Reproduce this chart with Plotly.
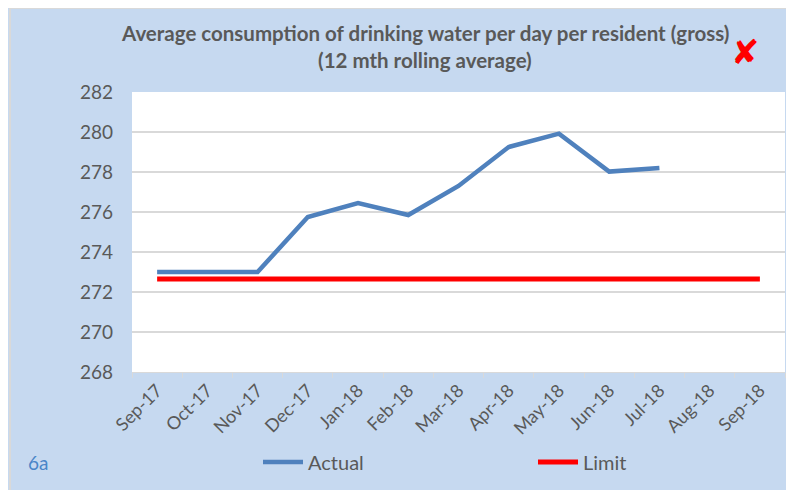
import plotly.graph_objects as go

months = ["Sep-17", "Oct-17", "Nov-17", "Dec-17", "Jan-18", "Feb-18", "Mar-18",
          "Apr-18", "May-18", "Jun-18", "Jul-18", "Aug-18", "Sep-18"]
actual = [273.0, 273.0, 273.0, 275.75, 276.45, 275.85, 277.3,
          279.25, 279.92, 278.02, 278.2, None, None]
limit = [272.65] * 13
y_ticks = [268, 270, 272, 274, 276, 278, 280, 282]

BG = "#C6D9F0"
TXT = "#595959"
FONT = "Lato"

# the page places the figure 8px from the top-left corner
OFF = 8
W, H = 794 - OFF, 490 - OFF
L, R, T, B = 132 - OFF, 9, 92 - OFF, 118
pw, ph = W - L - R, H - T - B

def px_x(x):  # page pixel -> paper fraction
    return (x - OFF - L) / pw

def px_y(y):
    return (H - B - (y - OFF)) / ph

fig = go.Figure()
fig.add_trace(go.Scatter(x=months, y=actual, name="Actual", mode="lines",
                         line=dict(color="#4F81BD", width=4.5), connectgaps=False))
fig.add_trace(go.Scatter(x=months, y=limit, name="Limit", mode="lines",
                         line=dict(color="#FF0000", width=5)))

shapes = [
    dict(type="rect", xref="paper", yref="paper", x0=px_x(9), x1=px_x(794), y0=px_y(8), y1=px_y(9),
         fillcolor="#D9D9D9", line_width=0, layer="below"),
    dict(type="rect", xref="paper", yref="paper", x0=px_x(9), x1=px_x(11), y0=px_y(8), y1=px_y(490),
         fillcolor="#D9D9D9", line_width=0, layer="below"),
]

annotations = [
    dict(text="<b>Average consumption of drinking water per day per resident (gross)</b>",
         xref="paper", yref="paper", x=px_x(425), y=px_y(33), xanchor="center", yanchor="middle",
         showarrow=False, font=dict(family=FONT, size=20.5, color=TXT)),
    dict(text="<b>(12 mth rolling average)</b>",
         xref="paper", yref="paper", x=px_x(425), y=px_y(60), xanchor="center", yanchor="middle",
         showarrow=False, font=dict(family=FONT, size=20.5, color=TXT)),
    dict(text="✘", xref="paper", yref="paper", x=px_x(745), y=px_y(52), xanchor="center",
         yanchor="middle", showarrow=False, font=dict(family="DejaVu Sans", size=34, color="#FF0000")),
    dict(text="6a", xref="paper", yref="paper", x=px_x(26), y=px_y(462), xanchor="left",
         yanchor="middle", showarrow=False, font=dict(family=FONT, size=19, color="#4A86C8")),
]

fig.update_layout(
    width=W, height=H,
    margin=dict(l=L, r=R, t=T, b=B, pad=0, autoexpand=False),
    paper_bgcolor=BG, plot_bgcolor="white",
    font=dict(family=FONT, color=TXT),
    shapes=shapes, annotations=annotations,
    showlegend=True,
    legend=dict(orientation="h", x=px_x(258), xanchor="left", y=px_y(462), yanchor="middle",
                font=dict(family=FONT, size=20, color=TXT), bgcolor="rgba(0,0,0,0)",
                entrywidth=220, itemwidth=40, traceorder="normal"),
)
fig.update_xaxes(type="category", categoryorder="array", categoryarray=months,
                 range=[-0.5, 12.5], showgrid=False, showline=True, linecolor="#D9D9D9",
                 linewidth=1, ticks="outside", tickson="boundaries", tickcolor="#D9D9D9",
                 ticklen=5, tickangle=-45, tickfont=dict(family=FONT, size=18, color=TXT),
                 zeroline=False, fixedrange=True)
fig.update_yaxes(range=[268, 282], tickvals=y_ticks, showgrid=True, gridcolor="#D9D9D9",
                 gridwidth=1.5, showline=False, zeroline=False, ticks="",
                 ticklabelstandoff=18, tickfont=dict(family=FONT, size=19, color=TXT),
                 fixedrange=True)

fig.write_html("out.html")
